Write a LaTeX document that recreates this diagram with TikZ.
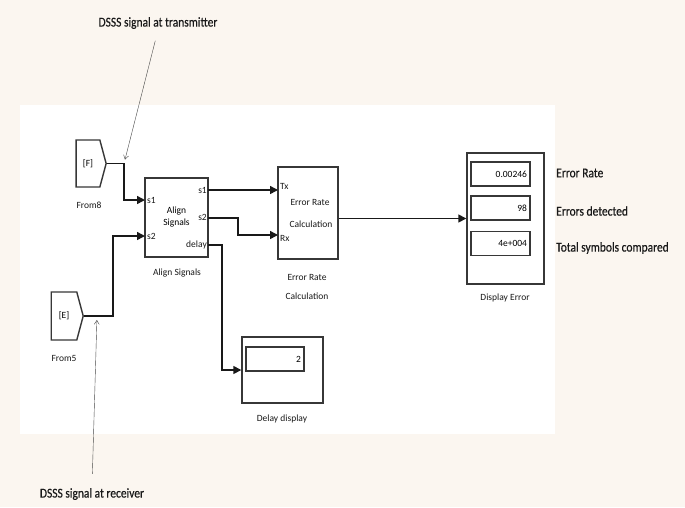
\documentclass[tikz,border=0pt]{standalone}
\usepackage{fontspec}
\setmainfont{Carlito}
\newfontfamily\slidefont[FakeStretch=0.85,FakeBold=0.4]{Carlito}
\usetikzlibrary{arrows.meta,shapes.symbols,calc}
\definecolor{paper}{RGB}{251,246,240}
\definecolor{ink}{RGB}{25,25,25}
\definecolor{edge}{RGB}{55,55,55}
\tikzset{
  >={Triangle[length=8pt,width=8pt]},
  blk/.style={draw=edge,line width=1.4pt,fill=white,inner sep=0pt,align=center,
    font=\fontsize{9.5}{12}\selectfont},
  from/.style={signal,signal to=east,signal pointer angle=150,draw=edge,line width=1.4pt,
    fill=white,inner sep=0pt,font=\fontsize{9.5}{11}\selectfont},
  dbox/.style={draw=edge,line width=1.2pt,minimum height=24pt,inner xsep=3pt,inner ysep=0pt,
    align=right,font=\fontsize{9.5}{11}\selectfont},
  port/.style={inner sep=0pt,font=\fontsize{9.5}{11}\selectfont,text=ink},
  blklabel/.style={inner sep=0pt,font=\fontsize{9.5}{11}\selectfont,text=ink},
  readout/.style={inner sep=0pt,anchor=west,font=\slidefont\fontsize{13.5}{15}\selectfont,text=ink},
  note/.style={inner sep=1pt,font=\slidefont\fontsize{13.5}{15}\selectfont,text=ink},
  wire/.style={draw=ink,line width=1.5pt},
  ann/.style={draw=ink!80,thin,-{Straight Barb[length=4pt,width=5pt]}},
}
\begin{document}
\begin{tikzpicture}[x=1pt,y=-1pt]
  \fill[paper] (0,0) rectangle (685,507);
  \useasboundingbox (0,0) rectangle (685,507);
  \fill[white] (20,105) rectangle (555,434);

  % sources
  \node[from,minimum width=30pt,minimum height=47pt] (f8) at (88,163.5) {[F]};
  \node[blklabel] at (89,205) {From8};
  \node[from,minimum width=32pt,minimum height=48pt] (f5) at (64,316) {[E]};
  \node[blklabel] at (64,358) {From5};

  % blocks
  \node[blk,minimum width=63pt,minimum height=79pt] (al) at (176.5,217.5) {Align\\Signals};
  \node[port,anchor=west] at (147,200) {s1};
  \node[port,anchor=west] at (147,236) {s2};
  \node[port,anchor=east] at (207,190) {s1};
  \node[port,anchor=east] at (207,217) {s2};
  \node[port,anchor=east] at (207,245) {delay};
  \node[blklabel] at (177,273) {Align Signals};

  \node[blk,minimum width=60pt,minimum height=92pt] (er) at (308,213) {};
  \node[port,anchor=west] at (280,186) {Tx};
  \node[port,anchor=west] at (280,238) {Rx};
  \node[port] at (310,202) {Error Rate};
  \node[port] at (311,224) {Calculation};
  \node[blklabel,align=center] at (307,287) {Error Rate\\[8pt]Calculation};

  \node[blk,minimum width=77pt,minimum height=131pt] (de) at (505.5,218.5) {};
  \node[dbox,text width=53pt] (d1) at (500.5,174) {0.00246};
  \node[dbox,text width=53pt] (d2) at (500.5,208) {98};
  \node[dbox,text width=53pt] (d3) at (500.5,243.5) {4e+004};
  \node[blklabel] at (505,298) {Display Error};
  \node[readout] at (556,173) {Error Rate};
  \node[readout] at (556,211) {Errors detected};
  \node[readout] at (556,248) {Total symbols compared};

  \node[blk,minimum width=81pt,minimum height=66pt] (dd) at (282.5,370) {};
  \node[dbox,text width=52pt] (dv) at (275,359) {2};
  \node[blklabel] at (282,419) {Delay display};

  % ports
  \coordinate (j8) at (124,163.5);
  \coordinate (t5) at (97,316);
  \coordinate (al-i1) at (145,200);
  \coordinate (al-i2) at (145,236);
  \coordinate (al-o1) at (208,190);
  \coordinate (al-o2) at (208,218);
  \coordinate (al-o3) at (208,245);
  \coordinate (er-tx) at (278,190);
  \coordinate (er-rx) at (278,235);

  % wires
  \draw[wire,->] (f8.east) -- (j8) |- (al-i1);
  \draw[wire,->] (f5.east) -- ++(29,0) |- (al-i2);
  \draw[wire,->] (al-o1) -- (er-tx);
  \draw[wire,->] (al-o2) -- ++(30,0) |- (er-rx);
  \draw[wire,->] (al-o3) -- ++(14,0) |- (dd.west);
  \draw[wire,->] (er.east |- de.west) -- (de.west);

  % notes
  \node[note] (tx) at (158,23) {DSSS signal at transmitter};
  \node[note] (rx) at (92,494) {DSSS signal at receiver};
  \draw[ann,shorten <=11pt,shorten >=4pt] (tx.south) -- (j8);
  \draw[ann,shorten <=13pt,shorten >=4pt] (rx.north) -- (t5);
\end{tikzpicture}
\end{document}
